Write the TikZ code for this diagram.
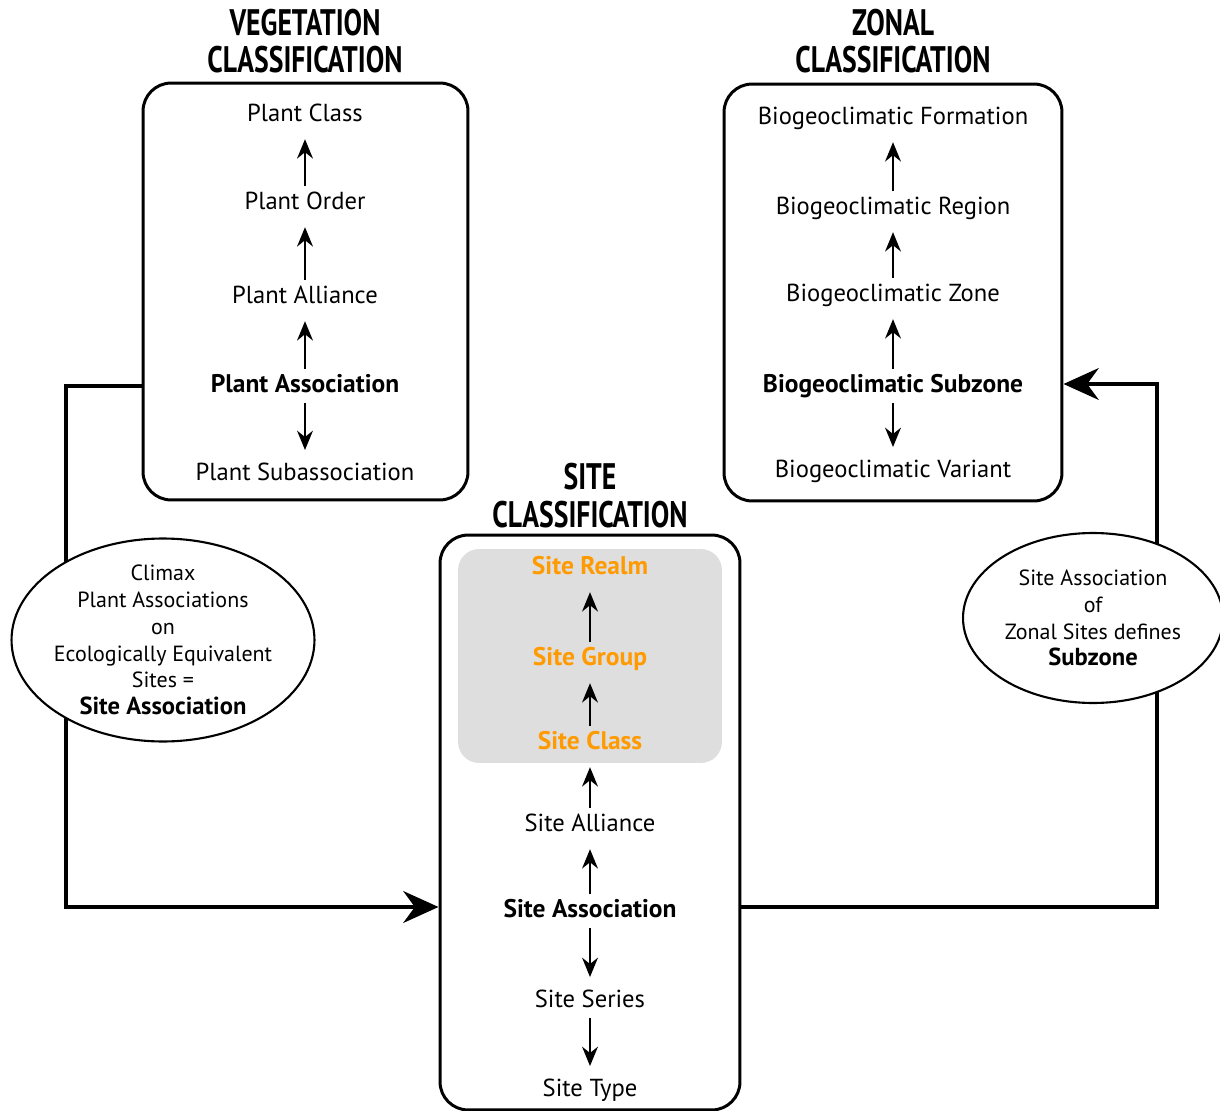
\documentclass[tikz,border=0pt]{standalone}
\usepackage{fontspec}
\setmainfont{PT Sans}
\newfontfamily\titlefont[FakeStretch=0.75]{PT Sans}
\usetikzlibrary{shapes.geometric, arrows.meta, positioning, calc}
\definecolor{siteOrange}{HTML}{FF9A00}
\definecolor{siteGray}{HTML}{DEDEDE}

\begin{document}
\begin{tikzpicture}[x=0.02cm, y=-0.02cm,
  panel/.style={draw, line width=1.7pt, rounded corners=16pt, inner sep=0pt},
  level/.style={font=\fontsize{14}{16}\selectfont, inner sep=2pt,
    text height=10pt, text depth=3pt, yshift=-1.2pt},
  key/.style={level, font=\fontsize{14.5}{16}\selectfont\bfseries},
  realm/.style={key, text=siteOrange},
  title/.style={font=\titlefont\fontsize{21}{21.5}\selectfont\bfseries, align=center},
  rank/.style={-{Stealth[length=11pt, width=9pt]}, line width=1.4pt,
    shorten >=5pt, shorten <=1pt},
  flow/.style={-{Stealth[length=20pt, width=18pt]}, line width=2.6pt},
  note/.style={draw, ellipse, fill=white, line width=1.2pt, align=center,
    inner xsep=-8pt, inner ysep=-4pt, font=\fontsize{12.5}{15.3}\selectfont}]
  \useasboundingbox (0,0) rectangle (1220,1111);

  % panels
  \node[panel, minimum width=6.5cm, minimum height=8.34cm] (veg) at (305.5,291.5) {};
  \node[panel, minimum width=6.76cm, minimum height=8.34cm] (zon) at (893,292.5) {};
  \node[panel, minimum width=6cm, minimum height=11.5cm] (site) at (590,822.5) {};
  \node[fill=siteGray, rounded corners=12pt, minimum width=5.28cm,
    minimum height=4.28cm] (upper) at (590,656) {};

  \node[title] (vegT) at (305,41) {VEGETATION\\CLASSIFICATION};
  \node[title] (zonT) at (893,41) {ZONAL\\CLASSIFICATION};
  \node[title] (siteT) at (590,495.5) {SITE\\CLASSIFICATION};

  % vegetation levels
  \node[level] (pc) at (305,113) {Plant Class};
  \node[level] (po) at (305,201) {Plant Order};
  \node[level] (pal) at (305,295) {Plant Alliance};
  \node[key] (pas) at (305,384) {Plant Association};
  \node[level] (psub) at (305,472) {Plant Subassociation};
  \draw[rank] (po) -- (pc);
  \draw[rank] (pal) -- (po);
  \draw[rank] (pas) -- (pal);
  \draw[rank] (pas) -- (psub);

  % zonal levels
  \node[level] (bfo) at (893,116) {Biogeoclimatic Formation};
  \node[level] (bre) at (893,206) {Biogeoclimatic Region};
  \node[level] (bzo) at (893,293) {Biogeoclimatic Zone};
  \node[key] (bsz) at (893,384) {Biogeoclimatic Subzone};
  \node[level] (bva) at (893,469) {Biogeoclimatic Variant};
  \draw[rank] (bre) -- (bfo);
  \draw[rank] (bzo) -- (bre);
  \draw[rank] (bsz) -- (bzo);
  \draw[rank] (bsz) -- (bva);

  % site levels
  \node[realm] (sre) at (590,566) {Site Realm};
  \node[realm] (sgr) at (590,657) {Site Group};
  \node[realm] (scl) at (590,741) {Site Class};
  \node[level] (sal) at (590,823) {Site Alliance};
  \node[key] (sas) at (590,909) {Site Association};
  \node[level] (sse) at (590,999) {Site Series};
  \node[level] (sty) at (590,1088) {Site Type};
  \draw[rank] (sgr) -- (sre);
  \draw[rank] (scl) -- (sgr);
  \draw[rank] (sal) -- (scl);
  \draw[rank] (sas) -- (sal);
  \draw[rank] (sas) -- (sse);
  \draw[rank] (sse) -- (sty);

  % links between the classifications
  \coordinate (lbend) at (66,907);
  \coordinate (rbend) at (1157,384);
  \draw[flow] (veg.west |- pas) -| (lbend) -- (site.west |- lbend);
  \draw[flow] (site.east |- lbend) -| (rbend) -- (zon.east |- rbend);

  \node[note, minimum width=6.06cm, minimum height=4.06cm] (climax) at (163,640)
    {Climax\\Plant Associations\\on\\Ecologically Equivalent\\Sites =\\
     {\fontsize{14}{15}\selectfont\bfseries Site Association}};
  \node[note, minimum width=5.2cm, minimum height=3.4cm] (zonal) at (1093,618)
    {Site Association\\of\\Zonal Sites defines\\
     {\fontsize{14}{15}\selectfont\bfseries Subzone}};
\end{tikzpicture}
\end{document}
